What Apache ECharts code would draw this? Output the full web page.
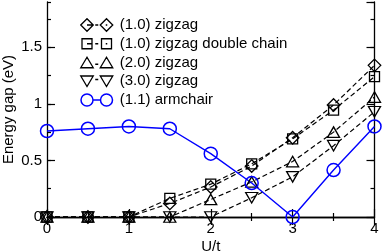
<!DOCTYPE html>
<html>
<head>
<meta charset="utf-8">
<script src="https://cdn.jsdelivr.net/npm/echarts@6/dist/echarts.min.js"></script>
<style>html,body{margin:0;padding:0;background:#fff}#c{width:382px;height:252px}</style>
</head>
<body>
<div id="c"></div>
<script>
const xValues = [0, 0.5, 1, 1.5, 2, 2.5, 3, 3.5, 4];
const zigzag10 = [0, 0, 0, 0.12, 0.265, 0.45, 0.70, 0.99, 1.34];
const zigzag10Double = [0, 0, 0, 0.165, 0.29, 0.47, 0.69, 0.945, 1.24];
const zigzag20 = [0, 0, 0, 0, 0.155, 0.31, 0.49, 0.75, 1.06];
const zigzag30 = [0, 0, 0, 0, 0, 0.17, 0.355, 0.63, 0.93];
const armchair11 = [0.76, 0.78, 0.80, 0.78, 0.56, 0.30, 0, 0.415, 0.80];
const seriesNames = ['(1.0) zigzag', '(1.0) zigzag double chain', '(2.0) zigzag', '(3.0) zigzag', '(1.1) armchair'];
const xTicks = [0, 1, 2, 3, 4];
const yTickLabels = [0, 0.5, 1, 1.5];

const FONT = '"Liberation Sans", Arial, Helvetica, sans-serif';
const BLACK = '#000';
const BLUE = '#0000ff';
const pairs = v => xValues.map((x, i) => [x, v[i]]);

const icons = {
  diamond: 'path://M0,6.25L6.25,0L12.5,6.25L6.25,12.5ZM6.25,6.25L12.5,6.25M14.5,6.25L17.5,6.25M19.5,6.25L25.75,0L32,6.25L25.75,12.5ZM25,6.25L26.5,6.25',
  square: 'path://M1.25,1.25L11.25,1.25L11.25,11.25L1.25,11.25ZM6.25,6.25L11.25,6.25M14.5,6.25L17.5,6.25M20.75,1.25L30.75,1.25L30.75,11.25L20.75,11.25ZM25,6.25L26.5,6.25M0,0M32,12.5',
  tri: 'path://M0,11.5L6.25,1L12.5,11.5ZM14.5,8L17.5,8M19.5,11.5L25.75,1L32,11.5ZM0,0M32,12.5',
  tridown: 'path://M0,1L12.5,1L6.25,11.5ZM14.5,4.5L17.5,4.5M19.5,1L32,1L25.75,11.5ZM0,0M32,12.5',
  circle: 'path://M0.25,6.25A6,6 0 1,0 12.25,6.25A6,6 0 1,0 0.25,6.25ZM12.25,6.25L19.75,6.25M19.75,6.25A6,6 0 1,0 31.75,6.25A6,6 0 1,0 19.75,6.25ZM0,0M32,12.5'
};

const axisLine = { show: true, lineStyle: { color: BLACK, width: 1.3 } };
const majorTick = { show: true, inside: true, length: 8, lineStyle: { color: BLACK, width: 1.2 } };
const minorTickY = { show: true, inside: true, length: 4, lineStyle: { color: BLACK, width: 1.2 } };
const label = { color: BLACK, fontSize: 15, fontFamily: FONT };

function dashed(name, data, symbol, size, rotate) {
  return {
    name, type: 'line', xAxisIndex: 0, yAxisIndex: 0, data: pairs(data),
    symbol, symbolSize: size, symbolRotate: rotate || 0, clip: false,
    lineStyle: { color: BLACK, width: 1.2, type: [5, 3] },
    itemStyle: { color: 'transparent', borderColor: BLACK, borderWidth: 1.3 },
    emphasis: { disabled: true }
  };
}

const chart = echarts.init(document.getElementById('c'), null, { renderer: 'canvas' });
chart.setOption({
  animation: false,
  backgroundColor: '#fff',
  textStyle: { fontFamily: FONT },
  grid: { left: 47, right: 7.5, top: 2, bottom: 35, outerBoundsMode: 'none', containLabel: false },
  legend: {
    orient: 'vertical', left: 80, top: 17.5, padding: 0, itemGap: 3.75, itemWidth: 32, itemHeight: 12.5,
    textStyle: { color: BLACK, fontSize: 15, fontFamily: FONT, padding: [0, 0, 0, 2] },
    selectedMode: false,
    data: [
      { name: seriesNames[0], icon: icons.diamond, itemStyle: { color: 'transparent', borderColor: BLACK, borderWidth: 1.3 } },
      { name: seriesNames[1], icon: icons.square, itemStyle: { color: 'transparent', borderColor: BLACK, borderWidth: 1.3 } },
      { name: seriesNames[2], icon: icons.tri, itemStyle: { color: 'transparent', borderColor: BLACK, borderWidth: 1.3 } },
      { name: seriesNames[3], icon: icons.tridown, itemStyle: { color: 'transparent', borderColor: BLACK, borderWidth: 1.3 } },
      { name: seriesNames[4], icon: icons.circle, itemStyle: { color: 'transparent', borderColor: BLUE, borderWidth: 1.5 } }
    ]
  },
  xAxis: [
    {
      type: 'value', position: 'bottom', min: xTicks[0], max: xTicks[xTicks.length - 1], interval: 1,
      axisLine, axisTick: majorTick,
      minorTick: { show: true, splitNumber: 2, length: 4, lineStyle: { color: BLACK, width: 1.2 } },
      splitLine: { show: false }, minorSplitLine: { show: false },
      axisLabel: Object.assign({ margin: 4 }, label),
      name: 'U/t', nameLocation: 'middle', nameGap: 22, nameMoveOverlap: false,
      nameTextStyle: { color: BLACK, fontSize: 15, fontFamily: FONT }
    },
    {
      type: 'value', position: 'top', min: xTicks[0], max: xTicks[xTicks.length - 1], interval: 1,
      axisLine, axisTick: majorTick,
      minorTick: { show: true, splitNumber: 2, length: 4, lineStyle: { color: BLACK, width: 1.2 } },
      splitLine: { show: false }, axisLabel: { show: false }
    }
  ],
  yAxis: [
    {
      type: 'value', position: 'left', min: 0, max: 1.9, interval: 0.5,
      axisLine, axisTick: majorTick, splitLine: { show: false },
      axisLabel: Object.assign({ margin: 5, showMaxLabel: false,
        formatter: v => (yTickLabels.some(t => Math.abs(t - v) < 1e-9) ? String(v) : '') }, label),
      name: 'Energy gap (eV)', nameLocation: 'middle', nameGap: 31, nameMoveOverlap: false,
      nameTextStyle: { color: BLACK, fontSize: 15, fontFamily: FONT }
    },
    {
      type: 'value', position: 'left', min: 0, max: 1.9, interval: 0.25,
      axisLine: { show: false }, axisTick: minorTickY, splitLine: { show: false }, axisLabel: { show: false }
    },
    {
      type: 'value', position: 'right', min: 0, max: 1.9, interval: 0.5,
      axisLine, axisTick: majorTick, splitLine: { show: false }, axisLabel: { show: false }
    },
    {
      type: 'value', position: 'right', min: 0, max: 1.9, interval: 0.25,
      axisLine: { show: false }, axisTick: minorTickY, splitLine: { show: false }, axisLabel: { show: false }
    }
  ],
  series: [
    dashed(seriesNames[0], zigzag10, 'diamond', 12.5),
    dashed(seriesNames[1], zigzag10Double, 'rect', 10),
    dashed(seriesNames[2], zigzag20, 'triangle', [12, 10.5]),
    dashed(seriesNames[3], zigzag30, 'triangle', [12, 10.5], 180),
    {
      name: seriesNames[4], type: 'line', xAxisIndex: 0, yAxisIndex: 0, data: pairs(armchair11),
      symbol: 'circle', symbolSize: 13, clip: false,
      lineStyle: { color: BLUE, width: 1.4 },
      itemStyle: { color: 'transparent', borderColor: BLUE, borderWidth: 1.5 },
      emphasis: { disabled: true }
    }
  ]
});
</script>
</body>
</html>
